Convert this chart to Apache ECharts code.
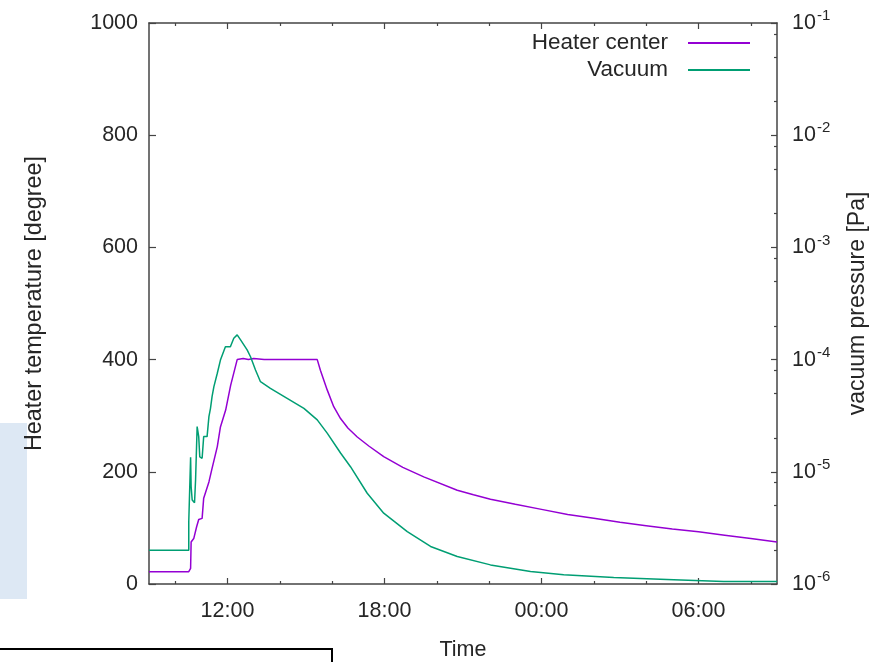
<!DOCTYPE html>
<html>
<head>
<meta charset="utf-8">
<script src="https://cdn.jsdelivr.net/npm/echarts@6/dist/echarts.min.js"></script>
<style>
html,body{margin:0;padding:0;background:#fff;}
#chart{width:884px;height:662px;}
</style>
</head>
<body>
<div id="chart"></div>
<script>
// Time in hours from midnight of day 1 (values > 24 are next day)
var heaterTime = [9.00, 10.52, 10.59, 10.61, 10.71, 10.82, 10.90, 11.03, 11.09, 11.29, 11.41, 11.61, 11.73, 11.93, 12.12, 12.37, 12.6, 12.8, 13.0, 13.4, 15.43, 15.55, 15.81, 16.06, 16.32, 16.6, 16.96, 17.4, 17.97, 18.7, 19.50, 20.78, 21.4, 22.05, 23.0, 24.0, 25.0, 26.0, 27.0, 28.0, 29.0, 30.0, 31.0, 32.0, 33.0];
var heaterTemp = [22, 22, 28, 75, 81, 102, 115, 117, 153, 182, 206, 245, 280, 310, 354, 400, 402, 400, 402, 400, 400, 381, 346, 316, 295, 278, 262, 246, 227, 208, 191, 167, 159, 151, 142, 133, 124, 117, 110, 104, 98, 93, 87, 81, 75];

var vacuumTime = [9.00, 10.52, 10.52, 10.59, 10.61, 10.65, 10.74, 10.78, 10.84, 10.90, 10.94, 11.03, 11.09, 11.22, 11.29, 11.35, 11.41, 11.48, 11.61, 11.73, 11.92, 12.11, 12.24, 12.37, 12.50, 12.75, 12.88, 13.07, 13.26, 13.64, 14.28, 14.92, 15.43, 15.81, 16.32, 16.70, 17.34, 17.97, 18.87, 19.76, 20.78, 22.05, 23.58, 24.85, 26.76, 29.05, 30.96, 33.00];
var vacuumPressure = [2.0e-6, 2.0e-6, 3.6e-6, 1.35e-5, 7.4e-6, 5.6e-6, 5.3e-6, 8.5e-6, 2.53e-5, 2.06e-5, 1.36e-5, 1.32e-5, 2.06e-5, 2.06e-5, 3.1e-5, 3.68e-5, 4.68e-5, 5.74e-5, 7.55e-5, 9.9e-5, 1.30e-4, 1.30e-4, 1.55e-4, 1.66e-4, 1.50e-4, 1.22e-4, 1.06e-4, 8.07e-5, 6.35e-5, 5.55e-5, 4.52e-5, 3.68e-5, 2.90e-5, 2.21e-5, 1.47e-5, 1.11e-5, 6.44e-6, 4.28e-6, 2.93e-6, 2.16e-6, 1.76e-6, 1.48e-6, 1.29e-6, 1.21e-6, 1.14e-6, 1.09e-6, 1.05e-6, 1.05e-6];

var xMajorTicks = [12, 18, 24, 30];
var xMajorLabels = ['12:00', '18:00', '00:00', '06:00'];
var xMinorTicks = [10, 14, 16, 20, 22, 26, 28, 32];
var yRightMajor = [1e-6, 1e-5, 1e-4, 1e-3, 1e-2, 1e-1];
var yRightMinor = [2e-6, 5e-6, 8e-6, 2e-5, 5e-5, 8e-5, 2e-4, 5e-4, 8e-4, 2e-3, 5e-3, 8e-3, 2e-2, 5e-2, 8e-2];

var seriesNames = ['Heater center', 'Vacuum'];
var seriesColors = ['#9400d3', '#009e73'];

function zip(a, b) { return a.map(function (v, i) { return [v, b[i]]; }); }

var FONT = 'Liberation Sans';
var TXT = '#262626';
var AX = '#444444';
var NUMSIZE = 21.5;

var chart = echarts.init(document.getElementById('chart'), null, {renderer: 'canvas'});

function xAxisDef(pos, ticks, len, labels, line) {
  return {
    type: 'value', min: 9, max: 33, position: pos,
    axisLine: {show: line, onZero: false, lineStyle: {color: AX, width: 1.5}},
    axisTick: {show: true, inside: true, length: len, customValues: ticks, lineStyle: {color: AX, width: 1.2}},
    axisLabel: labels ? {
      show: true, customValues: xMajorTicks, margin: 16.5,
      fontFamily: FONT, fontSize: NUMSIZE, color: TXT,
      formatter: function (v) { return xMajorLabels[xMajorTicks.indexOf(Math.round(v))]; }
    } : {show: false},
    splitLine: {show: false}
  };
}

var xAxes = [
  xAxisDef('bottom', xMajorTicks, 6, true, true),
  xAxisDef('bottom', xMinorTicks, 3, false, false),
  xAxisDef('top', xMajorTicks, 6, false, true),
  xAxisDef('top', xMinorTicks, 3, false, false)
];
xAxes[0].name = 'Time';
xAxes[0].nameLocation = 'middle';
xAxes[0].nameGap = 55;
xAxes[0].nameTextStyle = {fontFamily: FONT, fontSize: 21.5, color: TXT};

var option = {
  animation: false,
  backgroundColor: '#ffffff',
  grid: {left: 149, top: 23, right: 107, bottom: 78, containLabel: false, outerBoundsMode: 'none'},
  legend: {
    orient: 'vertical', right: 129, top: 26.5, align: 'right',
    icon: 'rect', itemWidth: 62, itemHeight: 2, itemGap: 4,
    data: seriesNames,
    textStyle: {fontFamily: FONT, fontSize: 22.5, color: TXT, padding: [0, 15, 0, 0]}
  },
  xAxis: xAxes,
  yAxis: [
    {
      type: 'value', min: 0, max: 1000, interval: 200, position: 'left',
      name: 'Heater temperature [degree]', nameLocation: 'middle', nameGap: 103, nameRotate: 90,
      nameTextStyle: {fontFamily: FONT, fontSize: 23.4, color: TXT},
      axisLine: {show: true, lineStyle: {color: AX, width: 1.5}},
      axisTick: {show: true, inside: true, length: 7, lineStyle: {color: AX, width: 1.2}},
      axisLabel: {margin: 11, fontFamily: FONT, fontSize: NUMSIZE, color: TXT, formatter: function (v) { return String(v); }},
      splitLine: {show: false}
    },
    {
      type: 'log', logBase: 10, min: 1e-6, max: 1e-1, position: 'right',
      name: 'vacuum pressure [Pa]', nameLocation: 'middle', nameGap: 69, nameRotate: 90,
      nameTextStyle: {fontFamily: FONT, fontSize: 23, color: TXT},
      axisLine: {show: true, lineStyle: {color: AX, width: 1.5}},
      axisTick: {show: true, inside: true, length: 6, customValues: yRightMajor, lineStyle: {color: AX, width: 1.2}},
      axisLabel: {
        show: true, customValues: yRightMajor, margin: 15,
        formatter: function (v) { return '{b|10}{s|' + Math.round(Math.log10(v)) + '}'; },
        rich: {
          b: {fontFamily: FONT, fontSize: NUMSIZE, color: TXT, lineHeight: 24},
          s: {fontFamily: FONT, fontSize: 15, color: TXT, lineHeight: 24, padding: [0, 0, 14, 1]}
        }
      },
      splitLine: {show: false}
    },
    {
      // minor ticks of the log pressure axis, in decade (exponent) units
      type: 'value', min: -6, max: -1, position: 'right',
      axisLine: {show: false},
      axisTick: {show: true, inside: true, length: 3, customValues: yRightMinor.map(function (v) { return Math.log10(v); }), lineStyle: {color: AX, width: 1.2}},
      axisLabel: {show: false},
      splitLine: {show: false}
    }
  ],
  graphic: [
    {type: 'rect', silent: true, z: -10, shape: {x: 0, y: 423, width: 27, height: 176}, style: {fill: '#dde8f4'}},
    {type: 'rect', silent: true, z: 10, shape: {x: -5, y: 649, width: 337, height: 40}, style: {fill: 'none', stroke: '#000', lineWidth: 2}}
  ],
  series: [
    {
      name: seriesNames[0], type: 'line', xAxisIndex: 0, yAxisIndex: 0,
      data: zip(heaterTime, heaterTemp), symbol: 'none',
      lineStyle: {color: seriesColors[0], width: 1.5}, itemStyle: {color: seriesColors[0]}
    },
    {
      name: seriesNames[1], type: 'line', xAxisIndex: 0, yAxisIndex: 1,
      data: zip(vacuumTime, vacuumPressure), symbol: 'none',
      lineStyle: {color: seriesColors[1], width: 1.5}, itemStyle: {color: seriesColors[1]}
    }
  ]
};
chart.setOption(option);
</script>
</body>
</html>
